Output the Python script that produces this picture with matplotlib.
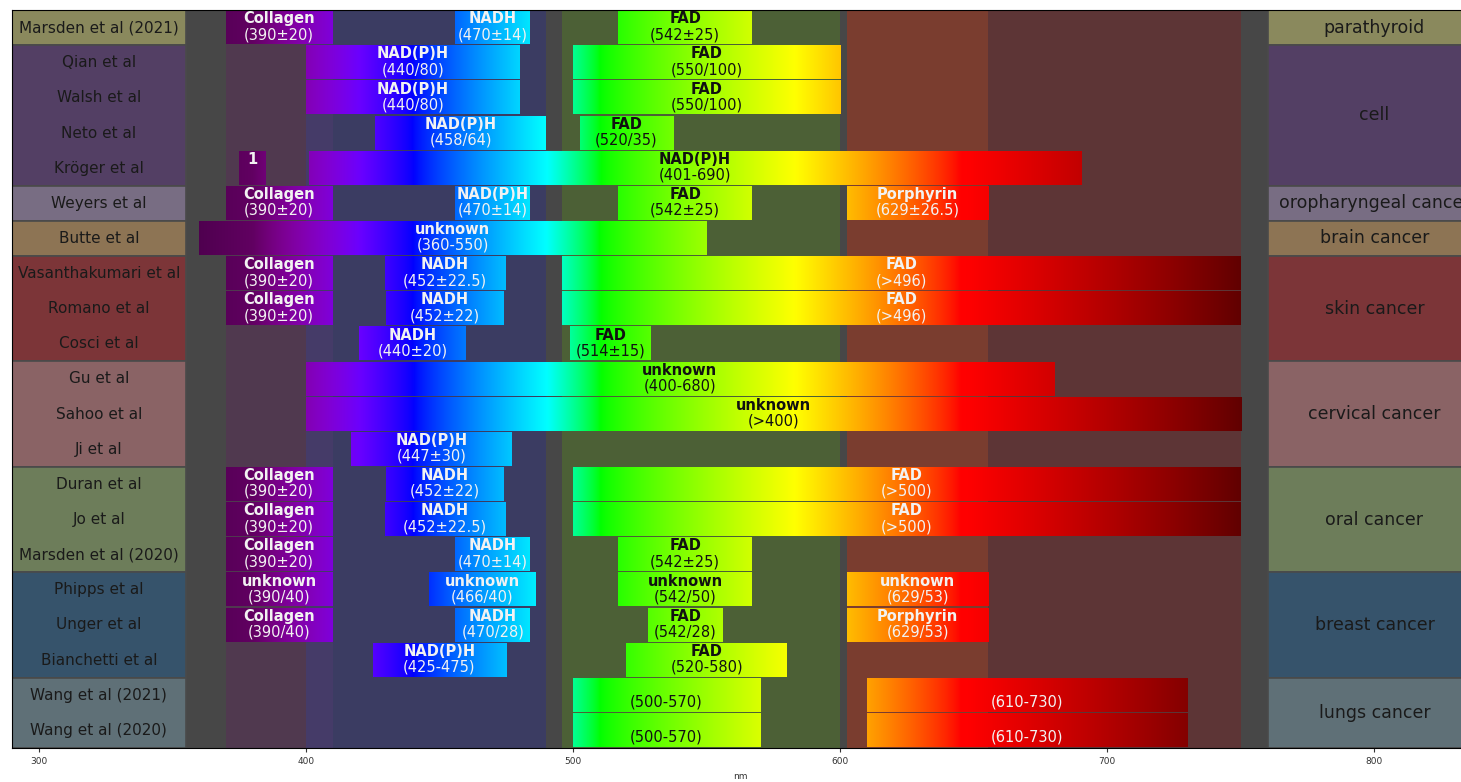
import numpy as np
import matplotlib
matplotlib.use("Agg")
import matplotlib.pyplot as plt
from matplotlib.patches import Rectangle

studies = ["Marsden et al (2021)", "Qian et al", "Walsh et al", "Neto et al", "Kröger et al",
           "Weyers et al", "Butte et al", "Vasanthakumari et al", "Romano et al", "Cosci et al",
           "Gu et al", "Sahoo et al", "Ji et al", "Duran et al", "Jo et al",
           "Marsden et al (2020)", "Phipps et al", "Unger et al", "Bianchetti et al",
           "Wang et al (2021)", "Wang et al (2020)"]

tissues = ["parathyroid", "cell", "oropharyngeal cancer", "brain cancer", "skin cancer",
           "cervical cancer", "oral cancer", "breast cancer", "lungs cancer"]
tissue_counts = [1, 4, 1, 1, 3, 3, 3, 3, 2]
tissue_colors = ["#8a895d", "#533f64", "#786d83", "#8d7454", "#7c3538",
                 "#8a6365", "#6d7d5a", "#36536b", "#5f7077"]

# emission windows (nm), one entry per bar
bar_row = [0, 0, 0,
           1, 1,
           2, 2,
           3, 3,
           4, 4,
           5, 5, 5, 5,
           6,
           7, 7, 7,
           8, 8, 8,
           9, 9,
           10,
           11,
           12,
           13, 13, 13,
           14, 14, 14,
           15, 15, 15,
           16, 16, 16, 16,
           17, 17, 17, 17,
           18, 18,
           19, 19,
           20, 20]
bar_lo = [370, 456, 517,
          400, 500,
          400, 500,
          426, 502.5,
          375, 401,
          370, 456, 517, 602.5,
          360,
          370, 429.5, 496,
          370, 430, 496,
          420, 499,
          400,
          400,
          417,
          370, 430, 500,
          370, 429.5, 500,
          370, 456, 517,
          370, 446, 517, 602.5,
          370, 456, 528, 602.5,
          425, 520,
          500, 610,
          500, 610]
bar_hi = [410, 484, 567,
          480, 600,
          480, 600,
          490, 537.5,
          385, 690,
          410, 484, 567, 655.5,
          550,
          410, 474.5, 750,
          410, 474, 750,
          460, 529,
          680,
          750,
          477,
          410, 474, 750,
          410, 474.5, 750,
          410, 484, 567,
          410, 486, 567, 655.5,
          410, 484, 556, 655.5,
          475, 580,
          570, 730,
          570, 730]
bar_name = ["Collagen", "NADH", "FAD",
            "NAD(P)H", "FAD",
            "NAD(P)H", "FAD",
            "NAD(P)H", "FAD",
            "1", "NAD(P)H",
            "Collagen", "NAD(P)H", "FAD", "Porphyrin",
            "unknown",
            "Collagen", "NADH", "FAD",
            "Collagen", "NADH", "FAD",
            "NADH", "FAD",
            "unknown",
            "unknown",
            "NAD(P)H",
            "Collagen", "NADH", "FAD",
            "Collagen", "NADH", "FAD",
            "Collagen", "NADH", "FAD",
            "unknown", "unknown", "unknown", "unknown",
            "Collagen", "NADH", "FAD", "Porphyrin",
            "NAD(P)H", "FAD",
            "", "",
            "", ""]
bar_range = ["(390±20)", "(470±14)", "(542±25)",
             "(440/80)", "(550/100)",
             "(440/80)", "(550/100)",
             "(458/64)", "(520/35)",
             "", "(401-690)",
             "(390±20)", "(470±14)", "(542±25)", "(629±26.5)",
             "(360-550)",
             "(390±20)", "(452±22.5)", "(>496)",
             "(390±20)", "(452±22)", "(>496)",
             "(440±20)", "(514±15)",
             "(400-680)",
             "(>400)",
             "(447±30)",
             "(390±20)", "(452±22)", "(>500)",
             "(390±20)", "(452±22.5)", "(>500)",
             "(390±20)", "(470±14)", "(542±25)",
             "(390/40)", "(466/40)", "(542/50)", "(629/53)",
             "(390/40)", "(470/28)", "(542/28)", "(629/53)",
             "(425-475)", "(520-580)",
             "(500-570)", "(610-730)",
             "(500-570)", "(610-730)"]

# shaded background regions behind the bars
band_lo = [370, 400, 410, 496, 602.5, 655.5]
band_hi = [400, 410, 490, 600, 655.5, 750]
band_colors = ["#50394f", "#453b68", "#3b3c62", "#4c6036", "#7a3d2f", "#5d3536"]


def spectrum(wl, gamma=0.8):
    # approximate RGB of visible light
    wl = np.asarray(wl, float)
    knots = [380, 440, 490, 510, 583, 645, 750]
    r = np.interp(wl, knots, [1, 0, 0, 0, 1, 1, 1])
    g = np.interp(wl, knots, [0, 0, 1, 1, 1, 0, 0])
    b = np.interp(wl, knots, [1, 1, 1, 0, 0, 0, 0])
    fade = np.interp(wl, [350, 380, 420, 648, 750], [0.2, 0.3, 1, 1, 0.3])
    return np.stack([(r * fade) ** gamma, (g * fade) ** gamma, (b * fade) ** gamma], axis=-1)


fig = plt.figure(figsize=(14.61, 7.82), dpi=100)
ax = fig.add_axes([12 / 1461, 34 / 782, 1456 / 1461, 738 / 782])
ax.set_facecolor("#474747")

n_rows = len(studies)
ax.set_xlim(290, 835)
ax.set_ylim(n_rows - 0.5, -0.5)

for lo, hi, c in zip(band_lo, band_hi, band_colors):
    ax.axvspan(lo, hi, color=c, lw=0, zorder=0)

# tissue boxes on both sides
start = 0
for name, count, c in zip(tissues, tissue_counts, tissue_colors):
    for x0, x1 in [(290, 355), (760, 845)]:
        ax.add_patch(Rectangle((x0, start - 0.5), x1 - x0, count, facecolor=c,
                               edgecolor="#4a4a4a", lw=1.2, zorder=1))
    ax.text(800, start - 0.5 + count / 2, name, ha="center", va="center",
            fontsize=12.5, color="#1a1a1a", zorder=3)
    start += count

for i, s in enumerate(studies):
    ax.text(322.5, i, s, ha="center", va="center", fontsize=11, color="#1a1a1a", zorder=3)

h = 0.94
for row, lo, hi, name, rng in zip(bar_row, bar_lo, bar_hi, bar_name, bar_range):
    wl = np.linspace(lo, hi, 300)
    ax.imshow(spectrum(wl)[None, :, :], extent=[lo, hi, row + h / 2, row - h / 2],
              aspect="auto", interpolation="bilinear", zorder=2)
    mid = (lo + hi) / 2
    tc = "#f2f2f2" if (mid < 490 or mid > 600) else "#111111"
    ax.text(mid, row - 0.25, name, ha="center", va="center", fontsize=10.5,
            fontweight="bold", color=tc, zorder=3)
    ax.text(mid, row + 0.2, rng, ha="center", va="center", fontsize=10.5,
            color=tc, zorder=3)

ax.set_xticks([300, 400, 500, 600, 700, 800])
ax.tick_params(axis="x", labelsize=6.5, colors="#333333", length=3)
ax.set_yticks([])
ax.set_xlabel("nm", fontsize=6.5, color="#333333", labelpad=4)

fig.savefig("out.png", dpi=100)
